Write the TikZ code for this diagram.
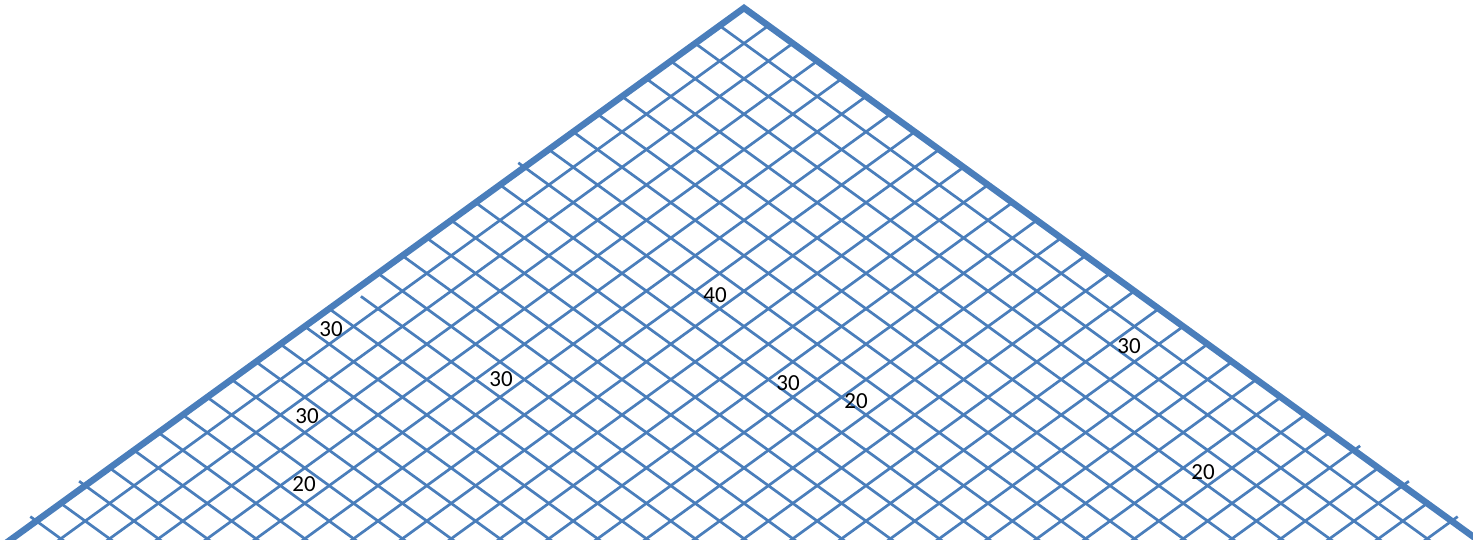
\documentclass[tikz,border=0pt]{standalone}
\usepackage{fontspec}
\setmainfont{Carlito}
\usetikzlibrary{calc}
\definecolor{roofblue}{HTML}{4A7EBB}
\tikzset{
  gridline/.style={draw=roofblue, line width=2.7pt},
  roofedge/.style={draw=roofblue, line width=6.5pt, line join=miter},
  cellnum/.style={font=\fontsize{23}{25}\selectfont, inner sep=1pt, text=black},
}
\begin{document}
\begin{tikzpicture}[x=1pt, y=-1pt]
  \useasboundingbox (0,0) rectangle (1473,539);
  \coordinate (apex) at (744,8);
  \coordinate (dl) at (-24.4,17.69);  % one step down the left slope
  \coordinate (dr) at (24.4,17.69);   % one step down the right slope

  % grid inside the roof
  \begin{scope}
    \clip (apex) -- ($(apex)+31*(dl)$) -- ($(apex)+31*(dr)$) -- cycle;
    \foreach \i in {1,...,30} {
      \ifnum\i=16
        \draw[gridline] ($(apex)+\i*(dl)+0.3*(dr)$) -- ++($30*(dr)$);
      \else
        \draw[gridline] ($(apex)+\i*(dl)$) -- ++($30*(dr)$);
      \fi
      \draw[gridline] ($(apex)+\i*(dr)$) -- ++($30*(dl)$);
    }
  \end{scope}

  % small stubs sticking out of the edges
  \foreach \i in {9,27,29}
    \draw[gridline] ($(apex)+\i*(dl)$) -- ++($-0.25*(dr)$);
  \foreach \j in {25,27,29}
    \draw[gridline] ($(apex)+\j*(dr)$) -- ++($-0.25*(dl)$);

  % roof edges
  \draw[roofedge] ($(apex)+31*(dl)$) -- (apex) -- ($(apex)+31*(dr)$);

  % values
  \node[cellnum] (topval)   at (715,295)  {40};
  \node[cellnum] (leftup)   at (331,329)  {30};
  \node[cellnum] (leftmid)  at (501,379)  {30};
  \node[cellnum] (leftlow)  at (307,416)  {30};
  \node[cellnum] (leftbot)  at (304,484)  {20};
  \node[cellnum] (midval)   at (788,383)  {30};
  \node[cellnum] (midlow)   at (856,401)  {20};
  \node[cellnum] (rightup)  at (1129,346) {30};
  \node[cellnum] (rightbot) at (1203,472) {20};
\end{tikzpicture}
\end{document}
